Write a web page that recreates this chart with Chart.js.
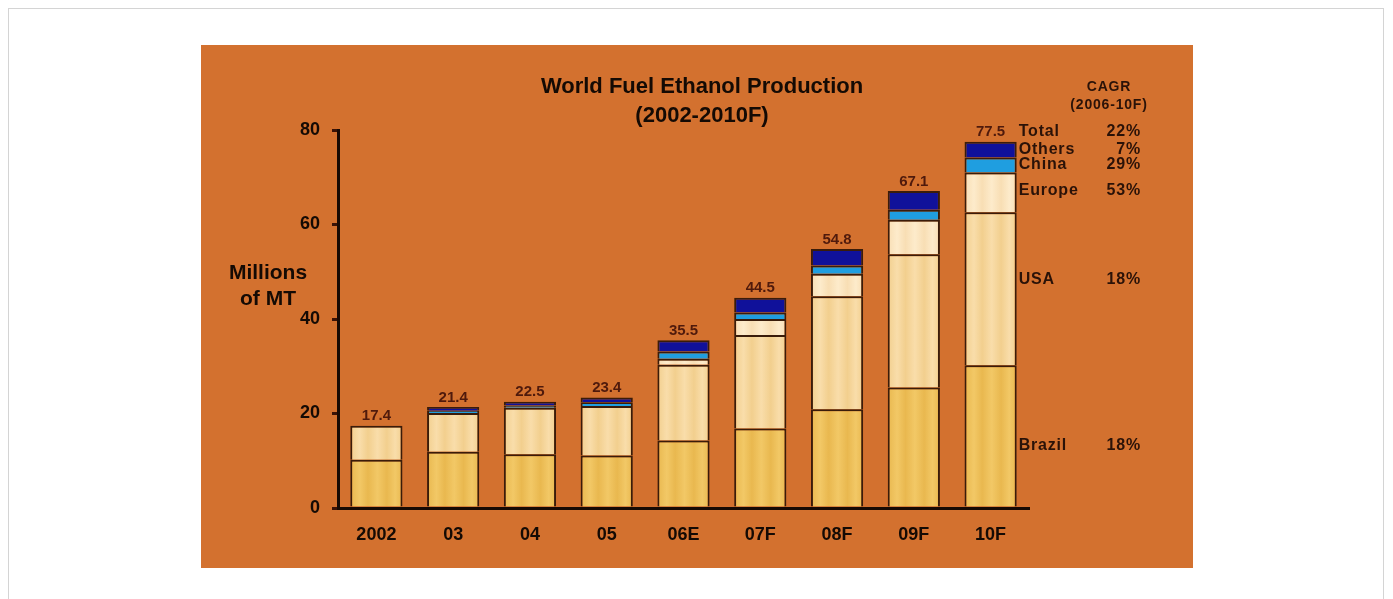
<!DOCTYPE html>
<html>
<head>
<meta charset="utf-8">
<title>World Fuel Ethanol Production</title>
<script src="https://cdn.jsdelivr.net/npm/chart.js@4.4.0/dist/chart.umd.min.js"></script>
<style>
  html, body { margin: 0; padding: 0; background: #ffffff; width: 1393px; height: 599px; overflow: hidden; }
  #frame { position: absolute; left: 8px; top: 8px; width: 1376px; height: 640px; border: 1px solid #d4d4d4; box-sizing: border-box; }
  #panel { position: absolute; left: 201px; top: 45px; width: 992px; height: 523px; background: #D3712F; }
  canvas { display: block; }
</style>
</head>
<body>
<div id="frame"></div>
<div id="panel"><canvas id="chart" width="992" height="523"></canvas></div>
<script>
// Production by region, millions of metric tons
const years   = ['2002', '03', '04', '05', '06E', '07F', '08F', '09F', '10F'];
const brazil  = [10.2, 11.9, 11.4, 11.1, 14.3, 16.8, 20.9, 25.5, 30.2];
const usa     = [7.2, 8.2, 9.8, 10.5, 16.0, 19.8, 23.9, 28.2, 32.4];
const europe  = [0, 0, 0, 0, 1.3, 3.4, 4.8, 7.3, 8.4];
const china   = [0, 0.5, 0.5, 0.8, 1.5, 1.4, 1.7, 2.1, 3.2];
const others  = [0, 0.8, 0.8, 1.0, 2.4, 3.1, 3.5, 4.0, 3.3];
const totals  = [17.4, 21.4, 22.5, 23.4, 35.5, 44.5, 54.8, 67.1, 77.5];

// Growth rates 2006-10F
const cagrNames  = ['Total', 'Others', 'China', 'Europe', 'USA', 'Brazil'];
const cagrValues = ['22%', '7%', '29%', '53%', '18%', '18%'];

const yTicks = [0, 20, 40, 60, 80];

const FONT = '"Liberation Sans", Arial, Helvetica, sans-serif';
const INK = '#140a04';
const EDGE = '#3a1c0a';

// Vertical banding across each bar, like shaded columns
const gradCache = {};
function banded(key, dark, light) {
  return (ctx) => {
    const chart = ctx.chart;
    const xs = chart.scales.x;
    if (!chart.chartArea || !xs || ctx.dataIndex === undefined) return light;
    const id = key + ':' + ctx.dataIndex + ':' + Math.round(chart.chartArea.left);
    if (gradCache[id]) return gradCache[id];
    const cx = xs.getPixelForValue(ctx.dataIndex);
    const half = (xs.width / years.length) * 0.68 / 2;
    const g = chart.ctx.createLinearGradient(cx - half, 0, cx + half, 0);
    g.addColorStop(0.00, dark);
    g.addColorStop(0.18, light);
    g.addColorStop(0.34, dark);
    g.addColorStop(0.52, light);
    g.addColorStop(0.70, dark);
    g.addColorStop(0.86, light);
    g.addColorStop(1.00, dark);
    gradCache[id] = g;
    return g;
  };
}

const seriesStyle = [
  { label: 'Brazil', data: brazil, backgroundColor: banded('b', '#E9B84F', '#F2C866') },
  { label: 'USA',    data: usa,    backgroundColor: banded('u', '#F2CF8E', '#F9DDAA') },
  { label: 'Europe', data: europe, backgroundColor: banded('e', '#F8DEB4', '#FDEBCB') },
  { label: 'China',  data: china,  backgroundColor: '#1F9EE0' },
  { label: 'Others', data: others, backgroundColor: '#10119A' }
];

const datasets = seriesStyle.map(s => ({
  label: s.label,
  data: s.data,
  backgroundColor: s.backgroundColor,
  borderColor: EDGE,
  borderWidth: 2,
  borderSkipped: 'start',
  barPercentage: 0.68,
  categoryPercentage: 1.0,
  stack: 'all'
}));

// Text on the panel: title, totals over columns, axis caption, CAGR table
const annotations = {
  id: 'annotations',
  afterDatasetsDraw(chart) {
    const { ctx, scales: { x, y } } = chart;
    ctx.save();

    // title
    ctx.fillStyle = INK;
    ctx.font = 'bold 22px ' + FONT;
    ctx.textAlign = 'center';
    ctx.textBaseline = 'middle';
    ctx.fillText('World Fuel Ethanol Production', 501, 42);
    ctx.fillText('(2002-2010F)', 501, 71);

    // totals above each column
    ctx.font = 'bold 15px ' + FONT;
    ctx.fillStyle = '#4f1a0c';
    ctx.textBaseline = 'bottom';
    totals.forEach((t, i) => {
      ctx.fillText(t.toFixed(1), x.getPixelForValue(i), y.getPixelForValue(t) - 2);
    });

    // y axis caption, set horizontally
    ctx.fillStyle = INK;
    ctx.font = 'bold 21px ' + FONT;
    ctx.textBaseline = 'middle';
    const capY = y.getPixelForValue(50);
    ctx.fillText('Millions', 67, capY + 1);
    ctx.fillText('of MT', 67, capY + 27);

    // CAGR table beside the last column
    const last = years.length - 1;
    const xr = x.getPixelForValue(last) + (x.width / years.length) * 0.34;
    const nameX = xr + 2;
    const pctX = 940;
    const segs = [brazil, usa, europe, china, others];
    const place = [0.44, 0.56, 0.55, 0.5, 0.5];
    let base = 0;
    const at = {};
    ['Brazil', 'USA', 'Europe', 'China', 'Others'].forEach((n, k) => {
      const v = segs[k][last];
      at[n] = base + v * place[k];
      base += v;
    });
    ctx.font = 'bold 16px ' + FONT;
    if ('letterSpacing' in ctx) ctx.letterSpacing = '0.8px';
    ctx.fillStyle = '#2a1208';
    cagrNames.forEach((n, k) => {
      const py = n === 'Total'
        ? y.getPixelForValue(totals[last]) - 10
        : y.getPixelForValue(at[n]);
      ctx.textAlign = 'left';
      ctx.fillText(n, nameX, py);
      ctx.textAlign = 'right';
      ctx.fillText(cagrValues[k], pctX, py);
    });

    // CAGR heading
    ctx.font = 'bold 14px ' + FONT;
    ctx.textAlign = 'center';
    ctx.fillText('CAGR', 908, 42);
    ctx.fillText('(2006-10F)', 908, 60);
    ctx.restore();
  }
};

new Chart(document.getElementById('chart'), {
  type: 'bar',
  data: { labels: years, datasets },
  options: {
    responsive: false,
    animation: false,
    layout: { padding: { left: 10, right: 164, top: 85, bottom: 0 } },
    plugins: {
      legend: { display: false },
      tooltip: { enabled: false },
      title: { display: false }
    },
    scales: {
      x: {
        stacked: true,
        grid: { display: false, drawTicks: false },
        border: { display: true, color: '#170a04', width: 3 },
        ticks: { color: INK, font: { family: FONT, size: 18, weight: 'bold' }, padding: 16, maxRotation: 0 },
        afterFit(scale) { scale.height = 60; }
      },
      y: {
        stacked: true,
        min: 0,
        max: 80,
        afterBuildTicks(scale) { scale.ticks = yTicks.map(v => ({ value: v })); },
        grid: { display: true, drawOnChartArea: false, drawTicks: true, tickLength: 6, color: '#3a1206', lineWidth: 3 },
        border: { display: true, color: '#170a04', width: 3 },
        ticks: { color: INK, font: { family: FONT, size: 18, weight: 'bold' }, padding: 12 },
        afterFit(scale) { scale.width = 127; }
      }
    }
  },
  plugins: [annotations]
});
</script>
</body>
</html>
